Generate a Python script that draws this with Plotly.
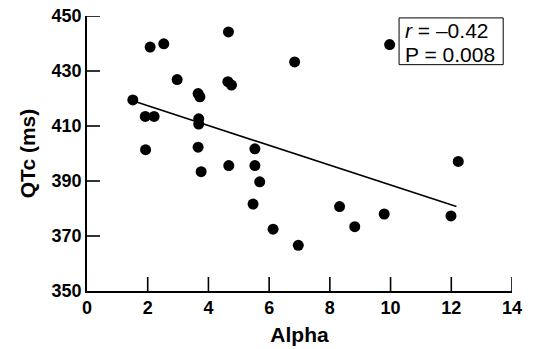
import plotly.graph_objects as go

alpha = [1.51, 1.92, 2.21, 1.93, 2.08, 2.53, 2.97, 3.66, 3.72, 3.68, 3.68, 3.66, 3.76,
         4.66, 4.64, 4.76, 4.67, 5.53, 5.53, 5.69, 5.47, 6.13, 6.96, 6.84, 8.32, 8.82,
         9.79, 11.99, 9.97, 12.23]
qtc = [419.5, 413.5, 413.5, 401.4, 438.7, 439.9, 426.9, 421.8, 420.6, 412.6, 410.7, 402.3, 393.4,
       444.2, 426.1, 424.9, 395.6, 401.7, 395.6, 389.7, 381.6, 372.5, 366.6, 433.3, 380.7, 373.4,
       378.0, 377.3, 439.6, 397.1]

fit_x = [1.63, 12.17]
fit_y = [418.7, 380.7]

x_ticks = [0, 2, 4, 6, 8, 10, 12, 14]
y_ticks = [350, 370, 390, 410, 430, 450]

stat_lines = ["<i>r</i> = –0.42", "P = 0.008"]

font = "Liberation Sans, Arial, sans-serif"

W, H = 533, 349
M = dict(l=87, r=21, t=16, b=58)
plot_w = W - M["l"] - M["r"]
plot_h = H - M["t"] - M["b"]
XTICK_LEN, YTICK_LEN = 14, 13

fig = go.Figure()
fig.add_trace(go.Scatter(x=fit_x, y=fit_y, mode="lines",
                         line=dict(color="black", width=1.6), showlegend=False))
fig.add_trace(go.Scatter(x=alpha, y=qtc, mode="markers",
                         marker=dict(color="black", size=11), showlegend=False))

# inside tick marks (skip the corner ticks at the origin)
for t in x_ticks[1:]:
    fig.add_shape(type="line", xref="x", yref="y domain", x0=t, x1=t, y0=0, y1=XTICK_LEN / plot_h,
                  line=dict(color="black", width=1.6), layer="above")
for t in y_ticks[1:]:
    fig.add_shape(type="line", xref="x domain", yref="y", x0=0, x1=YTICK_LEN / plot_w, y0=t, y1=t,
                  line=dict(color="black", width=1.6), layer="above")

# stats box
fig.add_shape(type="rect", xref="x", yref="y", x0=10.28, x1=13.71, y0=432.3, y1=449.3,
              line=dict(color="black", width=1), fillcolor="white", layer="above")
fig.add_annotation(x=10.4, y=444.9, xref="x", yref="y", xanchor="left", yanchor="middle",
                   text=stat_lines[0], showarrow=False,
                   font=dict(family=font, size=21, color="black"))
fig.add_annotation(x=10.4, y=435.9, xref="x", yref="y", xanchor="left", yanchor="middle",
                   text=stat_lines[1], showarrow=False,
                   font=dict(family=font, size=21, color="black"))

fig.update_layout(
    width=W, height=H,
    margin=M,
    paper_bgcolor="white", plot_bgcolor="white",
    font=dict(family=font, size=18, color="black"),
    xaxis=dict(range=[0, 14], tickvals=x_ticks, ticks="", automargin=False,
               showline=True, linecolor="black", linewidth=1.5, showgrid=False, zeroline=False,
               title=dict(text="Alpha", font=dict(size=21, weight="bold"), standoff=10),
               tickfont=dict(size=18, weight="bold")),
    yaxis=dict(range=[350, 450], tickvals=y_ticks, ticks="", automargin=False,
               showline=True, linecolor="black", linewidth=1.5, showgrid=False, zeroline=False,
               title=dict(text="QTc (ms)", font=dict(size=21, weight="bold"), standoff=10),
               tickfont=dict(size=18, weight="bold")),
)

fig.write_html("out.html", post_script="document.body.style.margin='0';",
               config={"displayModeBar": False})
